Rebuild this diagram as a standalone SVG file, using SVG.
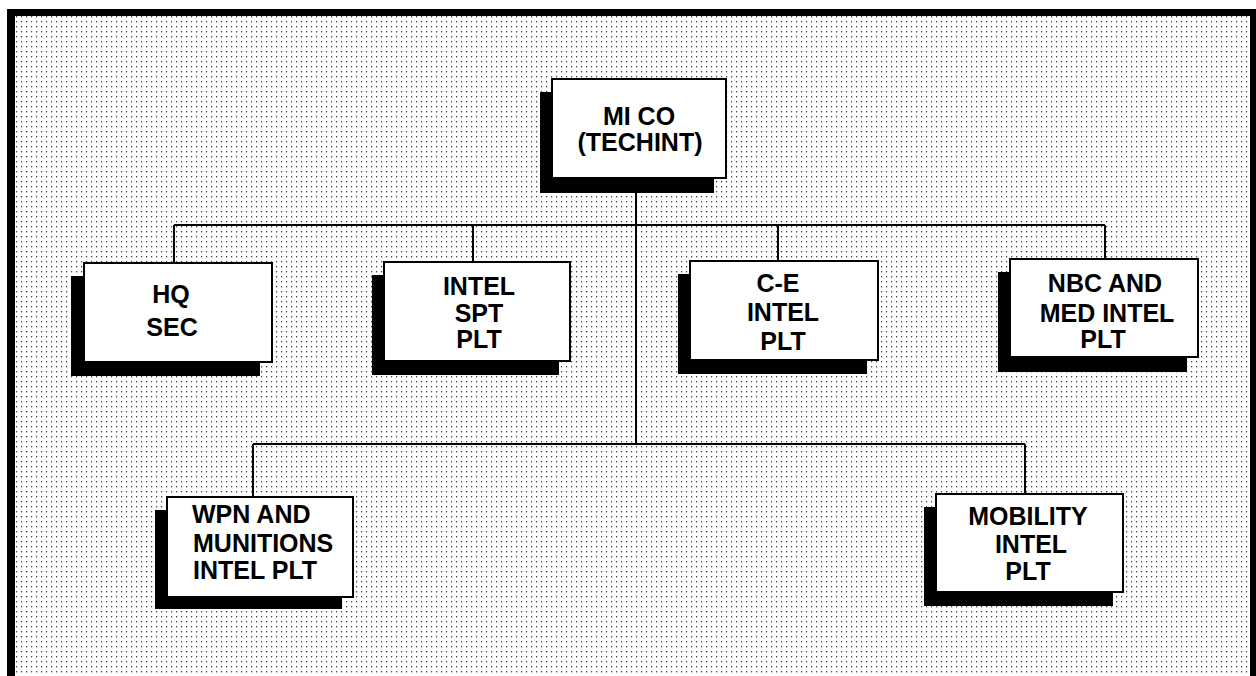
<svg xmlns="http://www.w3.org/2000/svg" width="1256" height="676" viewBox="0 0 1256 676">
<defs>
<pattern id="dots" x="0" y="0" width="5" height="5" patternUnits="userSpaceOnUse">
<rect x="1" y="1" width="1.2" height="1.4" fill="#444"/>
</pattern>
<style>
.box{fill:#fff;stroke:#000;stroke-width:2}
.shadow{fill:#000}
.lbl{font-family:"Liberation Sans",Arial,sans-serif;font-weight:bold;font-size:25px;fill:#000;text-anchor:middle}
.conn{fill:none;stroke:#000;stroke-width:2}
</style>
</defs>
<rect x="0" y="0" width="1256" height="676" fill="#fff"/>
<rect x="12" y="15" width="1240" height="661" fill="url(#dots)"/>
<g id="frame" fill="#000">
<rect x="7" y="9" width="1249" height="7"/>
<rect x="7" y="9" width="8" height="667"/>
<rect x="1250" y="9" width="6" height="667"/>
</g>
<g id="connectors" class="conn">
<line x1="636" y1="178" x2="636" y2="444"/>
<line x1="174" y1="225" x2="1105" y2="225"/>
<line x1="174" y1="225" x2="174" y2="263"/>
<line x1="473" y1="225" x2="473" y2="262"/>
<line x1="778" y1="225" x2="778" y2="261"/>
<line x1="1105" y1="225" x2="1105" y2="259"/>
<line x1="253" y1="444" x2="1025" y2="444"/>
<line x1="253" y1="444" x2="253" y2="497"/>
<line x1="1025" y1="444" x2="1025" y2="494"/>
</g>
<g id="mico">
<rect class="shadow" x="540" y="92" width="174" height="101"/>
<rect class="box" x="552" y="79" width="174" height="99"/>
<text class="lbl" x="639" y="125">MI CO</text>
<text class="lbl" x="640" y="151">(TECHINT)</text>
</g>
<g id="hqsec">
<rect class="shadow" x="71" y="276" width="189" height="100"/>
<rect class="box" x="84" y="263" width="188" height="99"/>
<text class="lbl" x="171" y="303">HQ</text>
<text class="lbl" x="172" y="336">SEC</text>
</g>
<g id="intelspt">
<rect class="shadow" x="372" y="275" width="187" height="100"/>
<rect class="box" x="384" y="262" width="186" height="99"/>
<text class="lbl" x="479" y="295">INTEL</text>
<text class="lbl" x="479" y="322">SPT</text>
<text class="lbl" x="479" y="348">PLT</text>
</g>
<g id="ceintel">
<rect class="shadow" x="678" y="274" width="189" height="100"/>
<rect class="box" x="690" y="261" width="188" height="99"/>
<text class="lbl" x="778" y="292">C-E</text>
<text class="lbl" x="783" y="321">INTEL</text>
<text class="lbl" x="783" y="350">PLT</text>
</g>
<g id="nbc">
<rect class="shadow" x="998" y="272" width="189" height="100"/>
<rect class="box" x="1010" y="259" width="188" height="98"/>
<text class="lbl" x="1105" y="292">NBC AND</text>
<text class="lbl" x="1107" y="322">MED INTEL</text>
<text class="lbl" x="1103" y="348">PLT</text>
</g>
<g id="wpn">
<rect class="shadow" x="155" y="510" width="187" height="99"/>
<rect class="box" x="167" y="497" width="186" height="100"/>
<text class="lbl" x="192" y="523" style="text-anchor:start">WPN AND</text>
<text class="lbl" x="193" y="552" style="text-anchor:start">MUNITIONS</text>
<text class="lbl" x="193" y="579" style="text-anchor:start">INTEL PLT</text>
</g>
<g id="mobility">
<rect class="shadow" x="924" y="507" width="189" height="99"/>
<rect class="box" x="936" y="494" width="187" height="98"/>
<text class="lbl" x="1028" y="525">MOBILITY</text>
<text class="lbl" x="1031" y="553">INTEL</text>
<text class="lbl" x="1028" y="580">PLT</text>
</g>
</svg>
